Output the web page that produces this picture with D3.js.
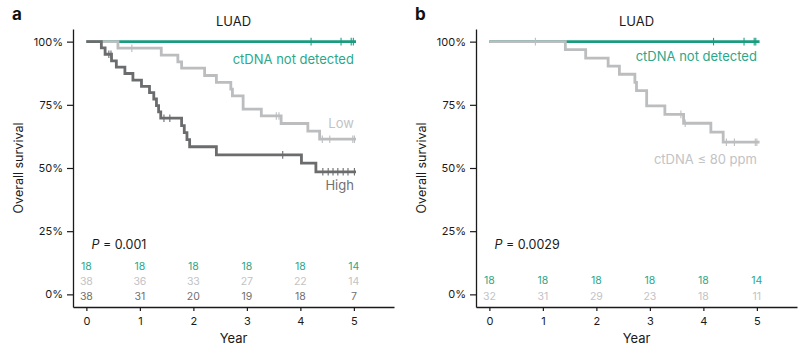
<!DOCTYPE html>
<html>
<head>
<meta charset="utf-8">
<script src="https://cdn.jsdelivr.net/npm/d3@7"></script>
<style>
  html, body { margin: 0; padding: 0; background: #fff; }
  svg text { font-family: Inter, "Liberation Sans", Arial, sans-serif; }
</style>
</head>
<body>
<svg id="chart" width="811" height="359"></svg>
<script>
// ---------- data ----------
const yearTicks = [0, 1, 2, 3, 4, 5];
const survivalTicks = [0, 25, 50, 75, 100];

// Panel a: ctDNA not detected
const aUndetTimes = [];
const aUndetSurv = [];
const aUndetCensor = [4.20, 4.76, 4.95, 4.99];
const aUndetEnd = 5.04;
// Panel a: Low
const aLowTimes = [0.59, 1.40, 1.71, 1.78, 2.21, 2.43, 2.70, 2.73, 2.93, 3.27, 3.64, 4.14, 4.36];
const aLowSurv  = [97.4, 94.7, 92.0, 89.5, 86.6, 83.9, 81.2, 78.5, 73.3, 70.6, 67.6, 64.6, 61.4];
const aLowCensor = [0.85, 3.55, 3.60, 4.41, 4.55, 4.98, 5.01];
const aLowEnd = 5.04;
// Panel a: High
const aHighTimes = [0.28, 0.35, 0.47, 0.56, 0.72, 0.87, 1.03, 1.18, 1.26, 1.31, 1.35, 1.39, 1.78, 1.83, 1.88, 1.93, 2.43, 4.02, 4.29];
const aHighSurv  = [97.5, 95.0, 92.4, 89.9, 87.4, 84.8, 82.3, 79.8, 77.3, 74.7, 72.2, 69.7, 66.8, 64.0, 61.2, 58.4, 55.2, 51.9, 48.5];
const aHighCensor = [0.42, 0.46, 1.45, 1.56, 3.67, 4.42, 4.52, 4.61, 4.70, 4.80, 4.89, 5.01];
const aHighEnd = 5.04;

// Panel b: ctDNA not detected
const bUndetTimes = [];
const bUndetSurv = [];
const bUndetCensor = [4.19, 4.76, 4.95, 4.98];
const bUndetEnd = 5.05;
// Panel b: ctDNA <= 80 ppm
const bLowTimes = [1.42, 1.80, 2.22, 2.43, 2.72, 2.75, 2.94, 3.28, 3.63, 4.14, 4.37];
const bLowSurv  = [96.8, 93.5, 90.3, 87.1, 83.9, 80.6, 74.6, 71.2, 67.7, 64.2, 60.2];
const bLowCensor = [0.86, 3.58, 3.66, 4.43, 4.58, 4.97, 5.00];
const bLowEnd = 5.05;

// numbers at risk
const aRiskUndet = [18, 18, 18, 18, 18, 14];
const aRiskLow   = [38, 36, 33, 27, 22, 14];
const aRiskHigh  = [38, 31, 20, 19, 18, 7];
const bRiskUndet = [18, 18, 18, 18, 18, 14];
const bRiskLow   = [32, 31, 29, 23, 18, 11];

// ---------- styles ----------
const GREEN = "#1a9c7f";
const GREEN_TXT = "#2aa88a";
const LIGHT = "#bcbdbf";
const LIGHT_TXT = "#c2c3c5";
const DARK = "#6b6c6e";
const DARK_TXT = "#6f7072";

const svg = d3.select("#chart");

function panel(opt) {
  const g = svg.append("g");
  const x = d3.scaleLinear().domain([-0.25, 5.75]).range([opt.x0, opt.x0 + 321]);
  const y = d3.scaleLinear().domain([-5, 105]).range([307, 29]);

  // axes
  const yAxis = d3.axisLeft(y).tickValues(survivalTicks).tickFormat(d => d + "%")
    .tickSize(6).tickPadding(4).tickSizeOuter(0);
  const xAxis = d3.axisBottom(x).tickValues(yearTicks).tickFormat(d3.format("d"))
    .tickSize(4).tickPadding(6).tickSizeOuter(0);
  const ya = g.append("g").attr("transform", `translate(${opt.x0},0)`).call(yAxis);
  const xa = g.append("g").attr("transform", `translate(0,307)`).call(xAxis);
  [ya, xa].forEach(a => {
    a.select(".domain").attr("stroke", "#1a1a1a").attr("stroke-width", 1.3);
    a.selectAll(".tick line").attr("stroke", "#1a1a1a").attr("stroke-width", 1.2);
    a.selectAll(".tick text").attr("fill", "#1a1a1a").style("font-size", "11px")
      .style("font-family", "Inter, sans-serif");
  });

  const line = d3.line().x(d => x(d[0])).y(d => y(d[1])).curve(d3.curveStepAfter);

  opt.curves.forEach(c => {
    const pts = [[0, 100]];
    c.times.forEach((t, i) => pts.push([t, c.surv[i]]));
    pts.push([c.end, c.surv.length ? c.surv[c.surv.length - 1] : 100]);
    g.append("path").attr("d", line(pts)).attr("fill", "none")
      .attr("stroke", c.color).attr("stroke-width", 2.8);
    const survAt = t => {
      let s = 100;
      c.times.forEach((tt, i) => { if (tt <= t) s = c.surv[i]; });
      return s;
    };
    g.selectAll(null).data(c.censor).enter().append("line")
      .attr("x1", d => x(d)).attr("x2", d => x(d))
      .attr("y1", d => y(survAt(d)) - 3.8).attr("y2", d => y(survAt(d)) + 3.8)
      .attr("stroke", c.color).attr("stroke-width", 1.1);
  });

  // title
  g.append("text").attr("x", x(2.75)).attr("y", 26).attr("text-anchor", "middle")
    .style("font-size", "13px").attr("fill", "#1a1a1a").text("LUAD");
  // panel letter
  g.append("text").attr("x", opt.letterX).attr("y", 20).style("font-size", "17px")
    .style("font-weight", "bold").attr("fill", "#111").text(opt.letter);
  // y label
  g.append("text").attr("transform", `translate(${opt.x0 - 50},168) rotate(-90)`)
    .attr("text-anchor", "middle").style("font-size", "12.5px").attr("fill", "#1a1a1a")
    .text("Overall survival");
  // x label
  g.append("text").attr("x", x(2.75)).attr("y", 343).attr("text-anchor", "middle")
    .style("font-size", "13px").attr("fill", "#1a1a1a").text("Year");
  // P value
  const pt = g.append("text").attr("x", x(0) + 5).attr("y", 249)
    .style("font-size", "12.5px").attr("fill", "#1a1a1a");
  pt.append("tspan").style("font-style", "italic").text("P");
  pt.append("tspan").text(" = " + opt.p);

  // curve labels
  opt.labels.forEach(l => {
    g.append("text").attr("x", x(5)).attr("y", l.y).attr("text-anchor", "end")
      .style("font-size", "13px").attr("fill", l.color).text(l.text);
  });

  // risk table
  opt.risk.forEach(r => {
    g.selectAll(null).data(r.values).enter().append("text")
      .attr("x", (d, i) => x(yearTicks[i])).attr("y", r.y)
      .attr("text-anchor", "middle").style("font-size", "10.5px")
      .attr("fill", r.color).text(d => d);
  });
}

panel({
  x0: 73, letter: "a", letterX: 12, p: "0.001",
  curves: [
    { times: aUndetTimes, surv: aUndetSurv, censor: aUndetCensor, end: aUndetEnd, color: GREEN },
    { times: aLowTimes, surv: aLowSurv, censor: aLowCensor, end: aLowEnd, color: LIGHT },
    { times: aHighTimes, surv: aHighSurv, censor: aHighCensor, end: aHighEnd, color: DARK }
  ],
  labels: [
    { text: "ctDNA not detected", y: 64, color: GREEN_TXT },
    { text: "Low", y: 128, color: LIGHT_TXT },
    { text: "High", y: 190, color: DARK_TXT }
  ],
  risk: [
    { values: aRiskUndet, y: 270, color: GREEN_TXT },
    { values: aRiskLow, y: 285, color: LIGHT_TXT },
    { values: aRiskHigh, y: 300, color: DARK_TXT }
  ]
});

panel({
  x0: 476, letter: "b", letterX: 415, p: "0.0029",
  curves: [
    { times: bUndetTimes, surv: bUndetSurv, censor: bUndetCensor, end: bUndetEnd, color: GREEN },
    { times: bLowTimes, surv: bLowSurv, censor: bLowCensor, end: bLowEnd, color: LIGHT }
  ],
  labels: [
    { text: "ctDNA not detected", y: 61, color: GREEN_TXT },
    { text: "ctDNA \u2264 80 ppm", y: 164, color: LIGHT_TXT }
  ],
  risk: [
    { values: bRiskUndet, y: 284, color: GREEN_TXT },
    { values: bRiskLow, y: 300, color: LIGHT_TXT }
  ]
});
</script>
</body>
</html>
